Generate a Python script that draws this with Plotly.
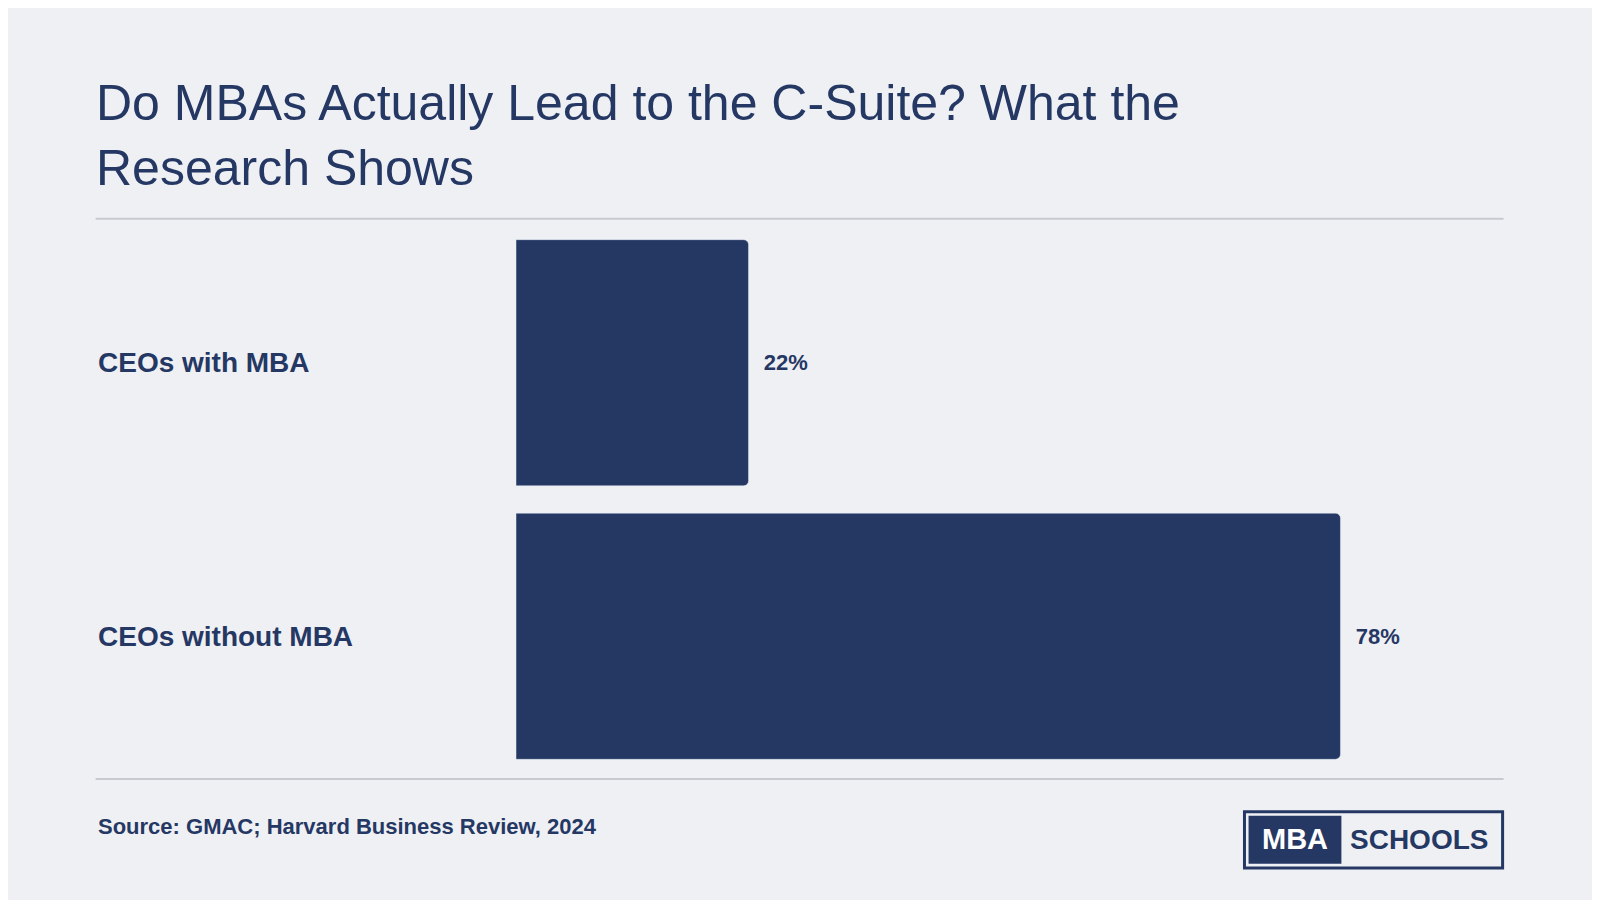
import plotly.graph_objects as go

categories = ["CEOs with MBA", "CEOs without MBA"]
values = [22, 78]
value_labels = ["  22%", "  78%"]

NAVY = "#253864"
BG = "#eff0f4"
FONT = "Liberation Sans, Arial, sans-serif"

W, H = 1600, 900


def f(r):
    # reference pixel -> figure pixel (page is shown with 8px margin and 0.98 scale)
    return (r - 8) / 0.98


L = f(506)
R = W - f(1542)
T = f(222)
B = H - f(758)
PW, PH = W - L - R, H - T - B


def px(x):
    return (f(x) - L) / PW


def py(y):
    return (H - B - f(y)) / PH


fig = go.Figure(go.Bar(
    x=values, y=categories, orientation="h",
    marker=dict(color=NAVY, cornerradius=5),
    text=value_labels, textposition="outside",
    textfont=dict(size=22, color=NAVY, family=FONT, weight="bold"),
    cliponaxis=False, hoverinfo="skip",
))

annotations = [
    dict(text="Do MBAs Actually Lead to the C-Suite? What the<br>Research Shows",
         xref="paper", yref="paper", x=px(92), y=py(72), xanchor="left", yanchor="top",
         align="left", showarrow=False,
         font=dict(size=50, color=NAVY, family=FONT)),
    dict(text="Source: GMAC; Harvard Business Review, 2024",
         xref="paper", yref="paper", x=px(94), y=py(810), xanchor="left", yanchor="middle",
         showarrow=False, font=dict(size=22, color=NAVY, family=FONT, weight="bold")),
    dict(text="MBA", xref="paper", yref="paper", x=px(1270), y=py(823),
         xanchor="center", yanchor="middle", showarrow=False,
         font=dict(size=29, color="white", family=FONT, weight="bold")),
    dict(text="SCHOOLS", xref="paper", yref="paper", x=px(1391), y=py(823),
         xanchor="center", yanchor="middle", showarrow=False,
         font=dict(size=28, color=NAVY, family=FONT, weight="bold")),
]
for cat in categories:
    annotations.append(dict(text=cat, x=px(94), xref="paper", y=cat, yref="y",
                            xanchor="left", yanchor="middle", showarrow=False,
                            font=dict(size=28, color=NAVY, family=FONT, weight="bold")))

shapes = [
    dict(type="line", xref="paper", yref="paper", x0=px(94), x1=px(1474),
         y0=py(215), y1=py(215), line=dict(color="#c8cad0", width=2)),
    dict(type="line", xref="paper", yref="paper", x0=px(94), x1=px(1474),
         y0=py(764), y1=py(764), line=dict(color="#c8cad0", width=2)),
    dict(type="rect", xref="paper", yref="paper", x0=px(1220), x1=px(1473),
         y0=py(851), y1=py(796), line=dict(color=NAVY, width=3), fillcolor="rgba(0,0,0,0)"),
    dict(type="rect", xref="paper", yref="paper", x0=px(1224), x1=px(1315),
         y0=py(847), y1=py(800), line=dict(width=0), fillcolor=NAVY),
]

fig.update_layout(
    width=W, height=H, paper_bgcolor=BG, plot_bgcolor=BG,
    margin=dict(l=L, r=R, t=T, b=B),
    bargap=0.1, showlegend=False,
    xaxis=dict(range=[0, 100], visible=False, fixedrange=True),
    yaxis=dict(autorange="reversed", showticklabels=False, showgrid=False,
               zeroline=False, fixedrange=True),
    annotations=annotations, shapes=shapes,
    font=dict(family=FONT, color=NAVY),
)

fig.write_html("out.html")
